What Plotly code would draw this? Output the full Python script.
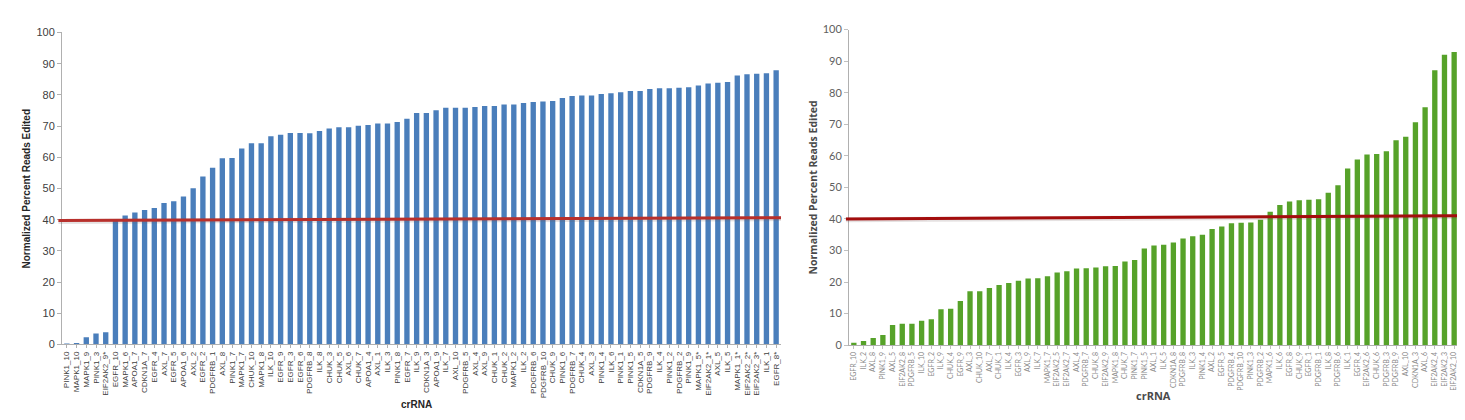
import plotly.graph_objects as go

# Left panel: crRNAs sorted by normalized editing
left_labels = [
    "PINK1_10", "MAPK1_10", "MAPK1_9", "PINK1_3", "EIF2AK2_9*", "EGFR_10", "MAPK1_6",
    "APOA1_7", "CDKN1A_7", "EGFR_4", "AXL_7", "EGFR_5", "APOA1_6", "AXL_2", "EGFR_2",
    "PDGFRB_1", "AXL_8", "PINK1_7", "MAPK1_7", "CHUK_10", "MAPK1_8", "ILK_10", "EGFR_9",
    "EGFR_3", "EGFR_6", "PDGFRB_8", "ILK_8", "CHUK_3", "CHUK_5", "AXL_6", "CHUK_7",
    "APOA1_4", "AXL_1", "ILK_3", "PINK1_8", "EGFR_7", "ILK_9", "CDKN1A_3", "APOA1_9",
    "ILK_7", "AXL_10", "PDGFRB_5", "AXL_4", "AXL_9", "CHUK_1", "CHUK_2", "MAPK1_2",
    "ILK_2", "PDGFRB_6", "PDGFRB_10", "CHUK_9", "PINK1_6", "PDGFRB_7", "CHUK_4", "AXL_3",
    "PINK1_4", "ILK_6", "PINK1_1", "PINK1_5", "CDKN1A_5", "PDGFRB_9", "ILK_4", "PINK1_2",
    "PDGFRB_2", "PINK1_9", "MAPK1_5*", "EIF2AK2_1*", "AXL_5", "ILK_5", "MAPK1_1*",
    "EIF2AK2_2*", "EIF2AK2_3*", "ILK_1", "EGFR_8*",
]
left_values = [
    0.2, 0.5, 2.3, 3.5, 3.9, 39.6, 41.3, 42.3, 43.1, 43.7, 45.3, 45.9, 47.4, 50.1, 53.8,
    56.6, 59.7, 59.8, 62.8, 64.5, 64.5, 66.7, 67.2, 67.8, 67.8, 67.7, 68.4, 69.2, 69.6,
    69.6, 70.1, 70.3, 70.8, 70.8, 71.3, 72.3, 74.2, 74.2, 75.1, 75.9, 75.9, 75.9, 76.1,
    76.4, 76.4, 76.9, 76.9, 77.4, 77.7, 77.9, 78.0, 79.0, 79.6, 79.8, 79.8, 80.3, 80.5,
    80.8, 81.2, 81.2, 81.9, 82.1, 82.1, 82.3, 82.4, 83.0, 83.6, 83.9, 84.1, 86.2, 86.6,
    86.8, 86.9, 87.9,
]

# Right panel
right_labels = [
    "EGFR_10", "ILK_2", "AXL_8", "PINK1_9", "AXL_5", "EIF2AK2_8", "PDGFRB_5", "ILK_10",
    "EGFR_2", "ILK_9", "CHUK_4", "EGFR_9", "AXL_3", "CHUK_10", "AXL_7", "CHUK_1", "ILK_4",
    "EGFR_3", "AXL_9", "ILK_7", "MAPK1_7", "EIF2AK2_5", "EIF2AK2_7", "AXL_4", "PDGFRB_7",
    "CHUK_8", "EIF2AK2_9", "MAPK1_8", "CHUK_7", "PINK1_7", "PINK1_5", "AXL_1", "ILK_5",
    "CDKN1A_8", "PDGFRB_8", "ILK_3", "PINK1_4", "AXL_2", "EGFR_5", "PDGFRB_4", "PDGFRB_10",
    "PINK1_3", "PDGFRB_2", "MAPK1_6", "ILK_6", "EGFR_8", "CHUK_9", "EGFR_1", "PDGFRB_1",
    "ILK_8", "PDGFRB_6", "ILK_1", "EGFR_4", "EIF2AK2_6", "CHUK_6", "PDGFRB_3", "PDGFRB_9",
    "AXL_10", "CDKN1A_3", "AXL_6", "EIF2AK2_4", "EIF2AK2_3", "EIF2AK2_10",
]
right_values = [
    0.8, 1.3, 2.3, 3.2, 6.4, 6.8, 6.8, 7.7, 8.2, 11.4, 11.5, 14.0, 17.1, 17.1, 18.1, 19.1,
    19.7, 20.4, 21.1, 21.2, 21.8, 23.0, 23.4, 24.3, 24.4, 24.6, 25.0, 25.1, 26.5, 27.0,
    30.6, 31.6, 31.8, 32.5, 33.8, 34.5, 35.0, 36.8, 37.6, 38.6, 38.8, 38.9, 39.7, 42.3,
    44.4, 45.5, 45.9, 46.1, 46.2, 48.3, 50.7, 56.0, 58.8, 60.4, 60.6, 61.4, 64.9, 66.0,
    70.6, 75.4, 87.1, 92.0, 92.9,
]

# 40% cutoff line (start, end) as drawn on each panel
left_cutoff = [39.7, 40.6]
right_cutoff = [40.0, 41.0]
y_ticks = list(range(0, 101, 10))

W, H = 1465, 420

fig = go.Figure()
fig.add_trace(go.Bar(x=left_labels, y=left_values, marker=dict(color="#4a7ebb", line_width=0),
                     xaxis="x", yaxis="y", showlegend=False))
fig.add_trace(go.Bar(x=right_labels, y=right_values, marker=dict(color="#56a229", line_width=0),
                     xaxis="x2", yaxis="y2", showlegend=False))

# cutoff lines: soft shadow underneath, solid red on top
for xr, yr, cut, col in [("x domain", "y", left_cutoff, "#b8302c"),
                         ("x2 domain", "y2", right_cutoff, "#a30d0d")]:
    fig.add_shape(type="line", xref=xr, yref=yr, x0=-0.005, x1=1.0, y0=cut[0] - 0.25, y1=cut[1] - 0.25,
                  line=dict(color="rgba(110,90,90,0.18)", width=5))
    fig.add_shape(type="line", xref=xr, yref=yr, x0=-0.005, x1=1.0, y0=cut[0], y1=cut[1],
                  line=dict(color=col, width=3))

axis_common = dict(showgrid=False, zeroline=False, showline=True, linecolor="#b0b0b0", linewidth=1)

fig.update_layout(
    width=W, height=H,
    margin=dict(l=0, r=0, t=0, b=0),
    paper_bgcolor="white", plot_bgcolor="white",
    bargap=0.45,
    xaxis=dict(domain=[54 / W, 773 / W], anchor="y", type="category", tickangle=-90,
               tickmode="array", tickvals=left_labels, ticktext=left_labels,
               range=[-0.5, len(left_labels) - 0.5], ticks="outside", ticklen=3, tickcolor="#b0b0b0",
               tickfont=dict(family="Liberation Sans, Arial", size=8, color="#404040"), **axis_common),
    yaxis=dict(domain=[1 - 340 / H, 1 - 18 / H], anchor="x", range=[0, 100], tickvals=y_ticks,
               ticks="outside", ticklen=4, tickcolor="#b0b0b0",
               tickfont=dict(family="Liberation Sans, Arial", size=11, color="#404040"), **axis_common),
    xaxis2=dict(domain=[841 / W, 1451 / W], anchor="y2", type="category", tickangle=-90,
                tickmode="array", tickvals=right_labels, ticktext=right_labels,
                range=[-0.5, len(right_labels) - 0.5], ticks="outside", ticklen=3, tickcolor="#c0c0c0",
                tickfont=dict(family="Lato, Open Sans", size=7, color="#8a8a8a"), **axis_common),
    yaxis2=dict(domain=[1 - 340.7 / H, 1 - 15 / H], anchor="x2", range=[0, 100], tickvals=y_ticks,
                ticks="outside", ticklen=4, tickcolor="#c0c0c0",
                tickfont=dict(family="Lato, Open Sans", size=11, color="#606060"), **axis_common),
)

titles = [
    ("Normalized Percent Reads Edited", 18, 179, -90, "Liberation Sans, Arial", 10, "#262626"),
    ("crRNA", 408, 402, 0, "Liberation Sans, Arial", 10, "#262626"),
    ("Normalized Percent Reads Edited", 805, 178, -90, "Open Sans, Lato", 10.5, "#4a4a4a"),
    ("crRNA", 1145, 393, 0, "Open Sans, Lato", 11, "#4a4a4a"),
]
for text, px, py, ang, fam, size, col in titles:
    fig.add_annotation(text=f"<b>{text}</b>", x=px / W, y=1 - py / H, xref="paper", yref="paper",
                       showarrow=False, textangle=ang, xanchor="center", yanchor="middle",
                       font=dict(family=fam, size=size, color=col))

fig.write_html("out.html")
